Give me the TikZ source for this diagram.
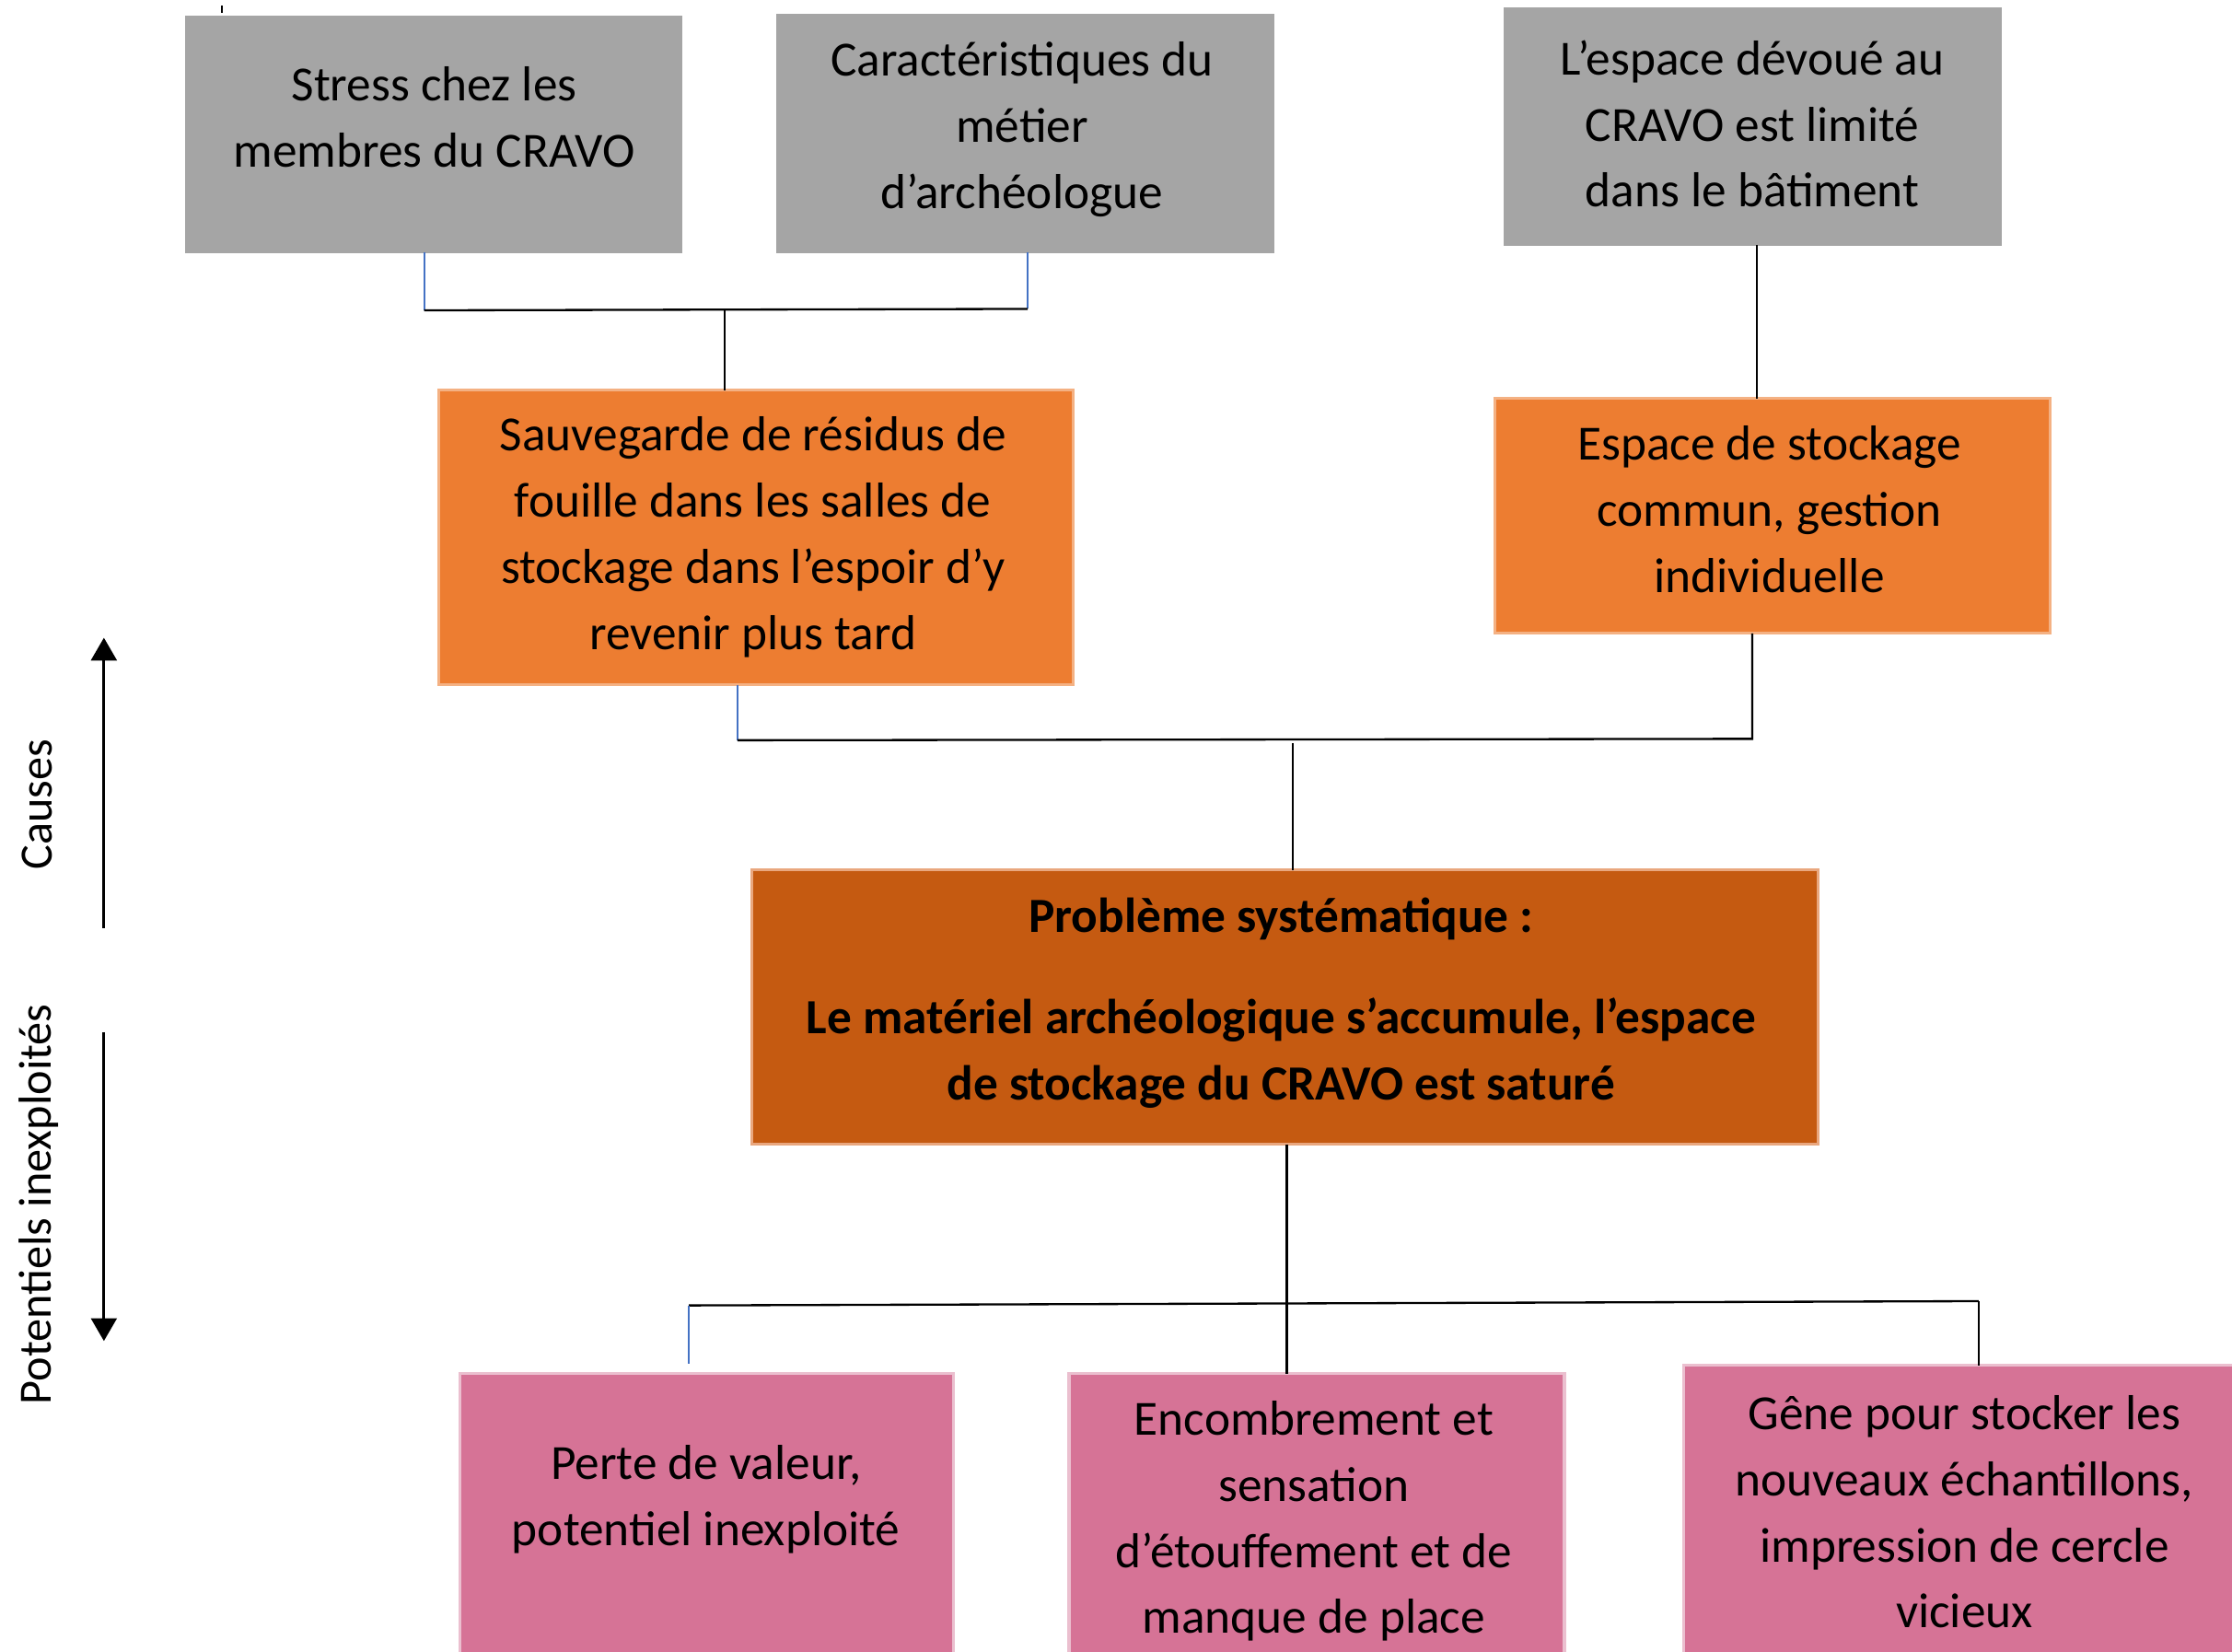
\documentclass[tikz,border=0pt]{standalone}
\usepackage{fontspec}
\setmainfont{Carlito}
\usetikzlibrary{arrows.meta}
\definecolor{grayf}{HTML}{A5A5A5}
\definecolor{orangef}{HTML}{ED7D31}
\definecolor{orangeb}{HTML}{F4B183}
\definecolor{darkf}{HTML}{C55A11}
\definecolor{darkb}{HTML}{E9A77F}
\definecolor{pinkf}{HTML}{D67396}
\definecolor{pinkb}{HTML}{EBBFCF}
\definecolor{bluel}{HTML}{4472C4}
\begin{document}
\begin{tikzpicture}[x=1pt,y=-1pt,
  boxbase/.style={rectangle,inner sep=0pt,outer sep=0pt,line width=2pt},
  graybox/.style={boxbase,fill=grayf,draw=grayf},
  orangebox/.style={boxbase,fill=orangef,draw=orangeb},
  darkbox/.style={boxbase,fill=darkf,draw=darkb},
  pinkbox/.style={boxbase,fill=pinkf,draw=pinkb},
  txt/.style={align=center,inner sep=0pt,font=\fontsize{34.5}{46.5}\selectfont},
  btxt/.style={txt,font=\fontsize{34.5}{46.5}\selectfont\bfseries},
  side/.style={inner sep=0pt,font=\fontsize{32.5}{38}\selectfont,rotate=90},
  bk/.style={draw=black,line width=1.5pt},
  bl/.style={draw=bluel,line width=1.5pt},
  arr/.style={draw=black,line width=2pt,-{Triangle[width=18pt,length=16pt]}}]
\useasboundingbox (0,0) rectangle (1568,1160);
\fill[white] (0,0) rectangle (1568,1160);

% boxes
\node[graybox,minimum width=347pt,minimum height=165pt] (g1) at (304.5,94.5) {};
\node[graybox,minimum width=348pt,minimum height=166pt] (g2) at (720,94) {};
\node[graybox,minimum width=348pt,minimum height=166pt] (g3) at (1231,89) {};
\node[orangebox,minimum width=446pt,minimum height=207pt] (o1) at (531,377.5) {};
\node[orangebox,minimum width=390pt,minimum height=165pt] (o2) at (1245,362.5) {};
\node[darkbox,minimum width=749pt,minimum height=193pt] (p) at (902.5,707.5) {};
\node[pinkbox,minimum width=347pt,minimum height=199pt] (q1) at (496.5,1064.5) {};
\node[pinkbox,minimum width=348pt,minimum height=199pt] (q2) at (925,1064.5) {};
\node[pinkbox,minimum width=390pt,minimum height=205pt] (q3) at (1378,1061.5) {};

% texts
\node[txt] (g1t) at (305,82) {Stress chez les\\membres du CRAVO};
\node[txt] (g2t) at (718,91) {Caractéristiques du\\métier\\d’archéologue};
\node[txt] (g3t) at (1231,87) {L’espace dévoué au\\CRAVO est limité\\dans le bâtiment};
\node[txt] (o1t) at (529,377.5) {Sauvegarde de résidus de\\fouille dans les salles de\\stockage dans l’espoir d’y\\revenir plus tard};
\node[txt] (o2t) at (1243,358) {Espace de stockage\\commun, gestion\\individuelle};
\node[btxt] (pt) at (900,704.5) {Problème systématique :\\[25pt]Le matériel archéologique s’accumule, l’espace\\de stockage du CRAVO est saturé};
\node[txt] (q1t) at (496,1053) {Perte de valeur,\\potentiel inexploité};
\node[txt] (q2t) at (923,1068.5) {Encombrement et\\sensation\\d’étouffement et de\\manque de place};
\node[txt] (q3t) at (1380,1062) {Gêne pour stocker les\\nouveaux échantillons,\\impression de cercle\\vicieux};

% top connectors
\coordinate (a1) at (298,218);
\coordinate (a2) at (722,217);
\coordinate (a3) at (509,218);
\draw[bl] (g1.south -| a1) -- (a1);
\draw[bl] (g2.south -| a2) -- (a2);
\draw[bk] (a1) -- (a2);
\draw[bk] (a3) -- (o1.north -| a3);
\coordinate (a4) at (1234,0);
\draw[bk] (g3.south -| a4) -- (o2.north -| a4);

% middle connectors
\coordinate (b1) at (518,520);
\coordinate (b2) at (1231,519);
\coordinate (b3) at (908,522);
\draw[bl] (o1.south -| b1) -- (b1);
\draw[bk] (b1) -- (b2) -- (o2.south -| b2);
\draw[bk] (b3) -- (p.north -| b3);

% bottom connectors
\coordinate (c0) at (904,916);
\coordinate (c1) at (484,917);
\coordinate (c2) at (1390,914);
\draw[bk] (p.south -| c0) -- (q2.north -| c0);
\draw[bk] (c1) -- (c2);
\draw[bl] (c1) -- (484,958);
\draw[bk] (c2) -- (q3.north -| c2);

% side arrows and labels
\coordinate (u1) at (73,652);
\coordinate (u2) at (73,448);
\coordinate (d1) at (73,725);
\coordinate (d2) at (73,942);
\draw[arr] (u1) -- (u2);
\draw[arr] (d1) -- (d2);
\node[side] (causes) at (26,565) {Causes};
\node[side] (pot) at (27,846) {Potentiels inexploités};

% small tick
\coordinate (t1) at (156,4);
\coordinate (t2) at (156,9);
\draw[line width=1.5pt] (t1) -- (t2);
\end{tikzpicture}
\end{document}
